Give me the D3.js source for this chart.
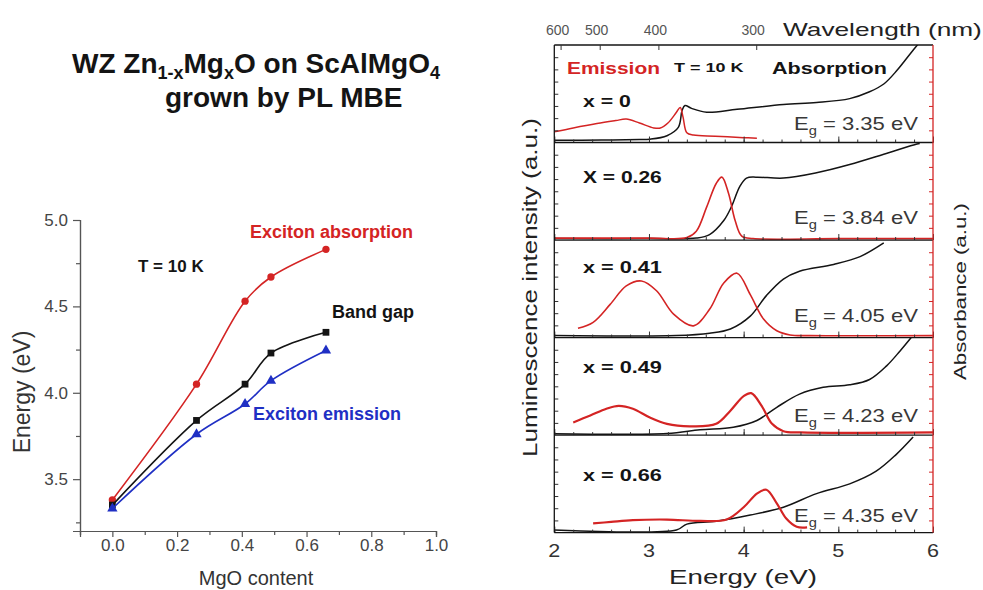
<!DOCTYPE html>
<html>
<head>
<meta charset="utf-8">
<script src="https://cdn.jsdelivr.net/npm/d3@7"></script>
<style>
  body { margin: 0; background: #fff; }
  svg { display: block; font-family: "Liberation Sans", Arial, Helvetica, sans-serif; }
</style>
</head>
<body>
<svg id="fig" width="983" height="590"></svg>
<script>
// ---------- Energies versus MgO content (left chart) ----------
const mgoContent        = [0, 0.26, 0.41, 0.49, 0.66];
const excitonAbsorption = [3.38, 4.05, 4.53, 4.67, 4.83];
const bandGap           = [3.35, 3.84, 4.05, 4.23, 4.35];
const excitonEmission   = [3.33, 3.76, 3.935, 4.07, 4.245];
const energyTicks       = [3.5, 4.0, 4.5, 5.0];
const energyMinorTicks  = [3.25, 3.75, 4.25, 4.75];
const mgoTicks          = [0.0, 0.2, 0.4, 0.6, 0.8, 1.0];
const mgoMinorTicks     = [-0.1, 0.1, 0.3, 0.5, 0.7, 0.9];

// ---------- Emission / absorption spectra (right chart) ----------
// each point: [photon energy (eV), normalised intensity within its panel]
const sampleLabels = ["x = 0", "X = 0.26", "x = 0.41", "x = 0.49", "x = 0.66"];
const gapValues    = [3.35, 3.84, 4.05, 4.23, 4.35];

const emissionX000 = [[2.0,0.11],[2.2,0.15],[2.45,0.195],[2.65,0.225],[2.76,0.24],[2.9,0.2],[3.05,0.15],[3.12,0.148],[3.2,0.2],[3.29,0.31],[3.33,0.36],[3.36,0.26],[3.4,0.1],[3.47,0.076],[3.7,0.065],[4.0,0.05],[4.14,0.045]];
const absorptionX000 = [[2.0,0.024],[2.5,0.025],[2.9,0.03],[3.01,0.034],[3.19,0.07],[3.31,0.155],[3.35,0.33],[3.38,0.38],[3.45,0.35],[3.61,0.31],[3.93,0.34],[4.42,0.39],[4.77,0.41],[5.12,0.45],[5.33,0.52],[5.48,0.6],[5.62,0.74],[5.76,0.91],[5.86,1.03]];

const emissionX026 = [[2.0,0.02],[3.0,0.02],[3.4,0.025],[3.5,0.09],[3.61,0.34],[3.71,0.58],[3.77,0.645],[3.84,0.48],[3.91,0.2],[3.98,0.04],[4.1,0.015],[5.0,0.015],[6.0,0.015]];
const absorptionX026 = [[2.0,0.015],[3.0,0.015],[3.5,0.02],[3.64,0.056],[3.79,0.2],[3.87,0.34],[3.96,0.55],[4.03,0.635],[4.14,0.645],[4.42,0.635],[4.77,0.69],[5.12,0.775],[5.48,0.88],[5.83,0.985],[5.86,0.99]];

const emissionX041 = [[2.25,0.095],[2.41,0.156],[2.59,0.34],[2.76,0.53],[2.92,0.58],[3.08,0.48],[3.26,0.24],[3.47,0.12],[3.64,0.29],[3.79,0.56],[3.93,0.66],[4.07,0.44],[4.21,0.19],[4.35,0.07],[4.49,0.027],[4.7,0.02],[6.0,0.02]];
const absorptionX041 = [[2.0,0.02],[3.29,0.02],[3.64,0.044],[3.86,0.088],[4.07,0.22],[4.24,0.43],[4.42,0.6],[4.59,0.68],[4.95,0.75],[5.23,0.83],[5.48,0.97]];

const emissionX049 = [[2.2,0.13],[2.38,0.2],[2.55,0.27],[2.68,0.30],[2.83,0.27],[3.01,0.18],[3.19,0.115],[3.43,0.09],[3.71,0.115],[3.86,0.25],[4.0,0.40],[4.08,0.43],[4.19,0.30],[4.3,0.115],[4.42,0.04],[4.6,0.027],[6.0,0.027]];
const absorptionX049 = [[2.0,0.014],[3.19,0.016],[3.54,0.054],[3.89,0.08],[4.14,0.15],[4.35,0.285],[4.59,0.42],[4.84,0.49],[5.12,0.515],[5.33,0.57],[5.51,0.71],[5.65,0.86],[5.77,1.0]];

const emissionX066 = [[2.41,0.094],[2.6,0.11],[2.83,0.128],[3.19,0.134],[3.54,0.12],[3.82,0.134],[4.0,0.26],[4.14,0.40],[4.24,0.44],[4.35,0.30],[4.45,0.144],[4.56,0.06],[4.67,0.054]];
const absorptionX066 = [[2.0,0.027],[3.29,0.027],[3.4,0.087],[3.71,0.117],[4.07,0.18],[4.42,0.26],[4.77,0.40],[5.12,0.50],[5.4,0.63],[5.61,0.80],[5.79,0.98]];

const photonEnergyTicks = [2, 3, 4, 5, 6];
const wavelengthTicks   = [600, 500, 400, 300];

// ---------- drawing ----------
const RED = "#d42424", BLUE = "#1f2fc4", INK = "#141414", GREY = "#444";
const svg = d3.select("#fig");

// text stretched horizontally to a given width
function fitText(parent, x, y, width, build, anchor = "start", rotate = 0) {
  const grp = parent.append("g");
  const t = grp.append("text");
  build(t);
  const w = t.node().getBBox().width;
  const sx = width / w;
  const off = anchor === "start" ? 0 : anchor === "end" ? -width : -width / 2;
  grp.attr("transform", `translate(${x},${y}) rotate(${rotate}) translate(${off},0) scale(${sx},1)`);
  return grp;
}

// ===== Title =====
const title = svg.append("text").attr("x", 72).attr("y", 73)
  .attr("font-size", 28).attr("font-weight", "bold").attr("fill", INK);
title.append("tspan").text("WZ Zn");
title.append("tspan").attr("font-size", 18).attr("dy", 6).text("1-x");
title.append("tspan").attr("dy", -6).text("Mg");
title.append("tspan").attr("font-size", 18).attr("dy", 6).text("x");
title.append("tspan").attr("dy", -6).text("O on ScAlMgO");
title.append("tspan").attr("font-size", 18).attr("dy", 6).text("4");
svg.append("text").attr("x", 165).attr("y", 107)
  .attr("font-size", 28).attr("font-weight", "bold").attr("fill", INK)
  .text("grown by PL MBE");

// ===== Left chart =====
const xL = d3.scaleLinear([-0.1, 1.0], [80, 436]);
const yL = d3.scaleLinear([3.2, 5.0], [531, 220]);
const left = svg.append("g");

function styleAxis(g) {
  g.selectAll("path, line").attr("stroke", "#555").attr("stroke-width", 1.2);
  g.selectAll("text").attr("font-size", 17).attr("fill", GREY)
    .attr("font-family", "'Liberation Sans', Arial, sans-serif");
}
left.append("g").attr("transform", "translate(80,0)")
  .call(d3.axisLeft(yL).tickValues(energyMinorTicks).tickSize(4).tickFormat(""))
  .call(styleAxis);
left.append("g").attr("transform", "translate(80,0)")
  .call(d3.axisLeft(yL).tickValues(energyTicks).tickSize(7).tickPadding(5).tickFormat(d3.format(".1f")))
  .call(styleAxis);
left.append("g").attr("transform", "translate(0,531)")
  .call(d3.axisBottom(xL).tickValues(mgoMinorTicks).tickSize(4).tickFormat(""))
  .call(styleAxis);
left.append("g").attr("transform", "translate(0,531)")
  .call(d3.axisBottom(xL).tickValues(mgoTicks).tickSize(6).tickPadding(2).tickFormat(d3.format(".1f")))
  .call(styleAxis);

left.append("text").attr("transform", "translate(30,392) rotate(-90)")
  .attr("text-anchor", "middle").attr("font-size", 23).attr("fill", "#333").text("Energy (eV)");
left.append("text").attr("x", 256).attr("y", 585)
  .attr("text-anchor", "middle").attr("font-size", 20).attr("fill", "#333").text("MgO content");

const seriesL = [
  { values: excitonAbsorption, color: RED,  symbol: d3.symbolCircle,   size: 42 },
  { values: bandGap,           color: INK,  symbol: d3.symbolSquare,   size: 46 },
  { values: excitonEmission,   color: BLUE, symbol: d3.symbolTriangle, size: 46 }
];
const lineL = d3.line().x(d => xL(d[0])).y(d => yL(d[1])).curve(d3.curveCatmullRom.alpha(0.5));
seriesL.forEach(s => {
  const pts = mgoContent.map((m, i) => [m, s.values[i]]);
  left.append("path").datum(pts).attr("d", lineL)
    .attr("fill", "none").attr("stroke", s.color).attr("stroke-width", 1.6);
  left.selectAll(null).data(pts).join("path")
    .attr("transform", d => `translate(${xL(d[0])},${yL(d[1])})`)
    .attr("d", d3.symbol(s.symbol, s.size)).attr("fill", s.color);
});

left.append("text").attr("x", 250).attr("y", 238).attr("font-size", 18).attr("font-weight", "bold")
  .attr("fill", RED).text("Exciton absorption");
left.append("text").attr("x", 138).attr("y", 272).attr("font-size", 17).attr("font-weight", "bold")
  .attr("fill", INK).text("T = 10 K");
left.append("text").attr("x", 332).attr("y", 318).attr("font-size", 18).attr("font-weight", "bold")
  .attr("fill", INK).text("Band gap");
left.append("text").attr("x", 253).attr("y", 420).attr("font-size", 18).attr("font-weight", "bold")
  .attr("fill", BLUE).text("Exciton emission");

// ===== Right chart: stacked spectra =====
const HC = 1239.84;                       // eV·nm
const xR = d3.scaleLinear([2, 6], [554.3, 933]);
const frameTop = 45, frameBottom = 532.6, nPanels = 5;
const panelH = (frameBottom - frameTop) / nPanels;
const right = svg.append("g");

const emissions   = [emissionX000, emissionX026, emissionX041, emissionX049, emissionX066];
const absorptions = [absorptionX000, absorptionX026, absorptionX041, absorptionX049, absorptionX066];
const labelLevel  = [0.36, 0.59, 0.667, 0.64, 0.53];   // height of the "x = ..." label in each panel
const gapLevel    = [0.133, 0.16, 0.164, 0.138, 0.113];
const emissionWidth = [1.5, 1.6, 1.6, 2.2, 2.2];

const defs = svg.append("defs");

sampleLabels.forEach((lab, i) => {
  const top = frameTop + i * panelH, bottom = top + panelH;
  const yP = d3.scaleLinear([0, 1], [bottom, top]);
  const g = right.append("g");

  defs.append("clipPath").attr("id", "clip" + i)
    .append("rect").attr("x", xR(2)).attr("y", top).attr("width", xR(6) - xR(2)).attr("height", panelH);

  const line = d3.line().x(d => xR(d[0])).y(d => yP(d[1])).curve(d3.curveCatmullRom.alpha(0.5));
  const curves = g.append("g").attr("clip-path", `url(#clip${i})`);
  curves.append("path").datum(absorptions[i]).attr("d", line)
    .attr("fill", "none").attr("stroke", INK).attr("stroke-width", 1.5);
  curves.append("path").datum(emissions[i]).attr("d", line)
    .attr("fill", "none").attr("stroke", RED).attr("stroke-width", emissionWidth[i]);

  // inward ticks on the panel's edges
  const tickStyle = (sel, c) => { sel.select(".domain").remove(); sel.selectAll("line").attr("stroke", c).attr("stroke-width", 1); };
  g.append("g").attr("transform", `translate(0,${bottom})`)
    .call(d3.axisBottom(xR).tickValues(d3.range(2, 6.001, 0.2)).tickSize(-3).tickFormat(""))
    .call(tickStyle, "#333");
  g.append("g").attr("transform", `translate(0,${bottom})`)
    .call(d3.axisBottom(xR).tickValues(photonEnergyTicks).tickSize(-6).tickFormat(""))
    .call(tickStyle, "#333");
  g.append("g").attr("transform", `translate(${xR(2)},0)`)
    .call(d3.axisLeft(yP).tickValues([0.125, 0.25, 0.375, 0.5, 0.625, 0.75, 0.875]).tickSize(-4).tickFormat(""))
    .call(tickStyle, "#333");
  g.append("g").attr("transform", `translate(${xR(6)},0)`)
    .call(d3.axisRight(yP).tickValues([0.125, 0.25, 0.375, 0.5, 0.625, 0.75, 0.875]).tickSize(-4).tickFormat(""))
    .call(tickStyle, RED);

  // separator / bottom line
  g.append("line").attr("x1", xR(2)).attr("x2", xR(6)).attr("y1", bottom).attr("y2", bottom)
    .attr("stroke", INK).attr("stroke-width", 1.3);

  // sample label
  fitText(g, 583, yP(labelLevel[i]), i === 0 ? 48 : 79, t =>
    t.attr("font-size", 16).attr("font-weight", "bold").attr("fill", INK).text(lab));

  // band gap label
  fitText(g, 918, yP(gapLevel[i]), 124, t => {
    t.attr("font-size", 18).attr("fill", "#383838");
    t.append("tspan").text("E");
    t.append("tspan").attr("font-size", 12).attr("dy", 5).text("g");
    t.append("tspan").attr("dy", -5).text(" = " + d3.format(".2f")(gapValues[i]) + " eV");
  }, "end");
});

// frame
right.append("line").attr("x1", xR(2)).attr("x2", xR(6)).attr("y1", frameTop).attr("y2", frameTop)
  .attr("stroke", INK).attr("stroke-width", 1.3);
right.append("line").attr("x1", xR(2)).attr("x2", xR(2)).attr("y1", frameTop).attr("y2", frameBottom)
  .attr("stroke", INK).attr("stroke-width", 1.3);
right.append("line").attr("x1", xR(6)).attr("x2", xR(6)).attr("y1", frameTop).attr("y2", frameBottom)
  .attr("stroke", RED).attr("stroke-width", 1.3);

// top wavelength axis
const waveEnergies = wavelengthTicks.map(w => HC / w);
right.append("g").attr("transform", `translate(0,${frameTop})`)
  .call(d3.axisTop(xR).tickValues(waveEnergies).tickSize(-5).tickFormat(""))
  .call(s => { s.select(".domain").remove(); s.selectAll("line").attr("stroke", "#333"); });
right.selectAll(".wl").data(wavelengthTicks).join("text")
  .attr("x", w => xR(HC / w) - 3).attr("y", 35).attr("text-anchor", "middle")
  .attr("font-size", 14).attr("fill", "#555").text(w => w);
fitText(right, 783, 36, 199, t => t.attr("font-size", 19).attr("fill", "#222").text("Wavelength (nm)"));

// bottom energy labels
photonEnergyTicks.forEach(v => {
  fitText(right, xR(v), 557, 12, t => t.attr("font-size", 18).attr("fill", "#333").text(v), "middle");
});
fitText(right, 743, 584, 148, t => t.attr("font-size", 21).attr("fill", "#222").text("Energy (eV)"), "middle");

// header of the first panel
fitText(right, 567, 74, 93, t => t.attr("font-size", 17).attr("font-weight", "bold").attr("fill", RED).text("Emission"));
fitText(right, 674, 72, 70, t => t.attr("font-size", 12).attr("font-weight", "bold").attr("fill", INK).text("T = 10 K"));
fitText(right, 772, 74, 115, t => t.attr("font-size", 17).attr("font-weight", "bold").attr("fill", INK).text("Absorption"));

// vertical axis titles
fitText(right, 537, 287.5, 339, t => t.attr("font-size", 20).attr("fill", "#222").text("Luminescence intensity (a.u.)"), "middle", -90);
fitText(right, 966, 291.5, 177, t => t.attr("font-size", 17).attr("fill", "#222").text("Absorbance (a.u.)"), "middle", -90);
</script>
</body>
</html>
